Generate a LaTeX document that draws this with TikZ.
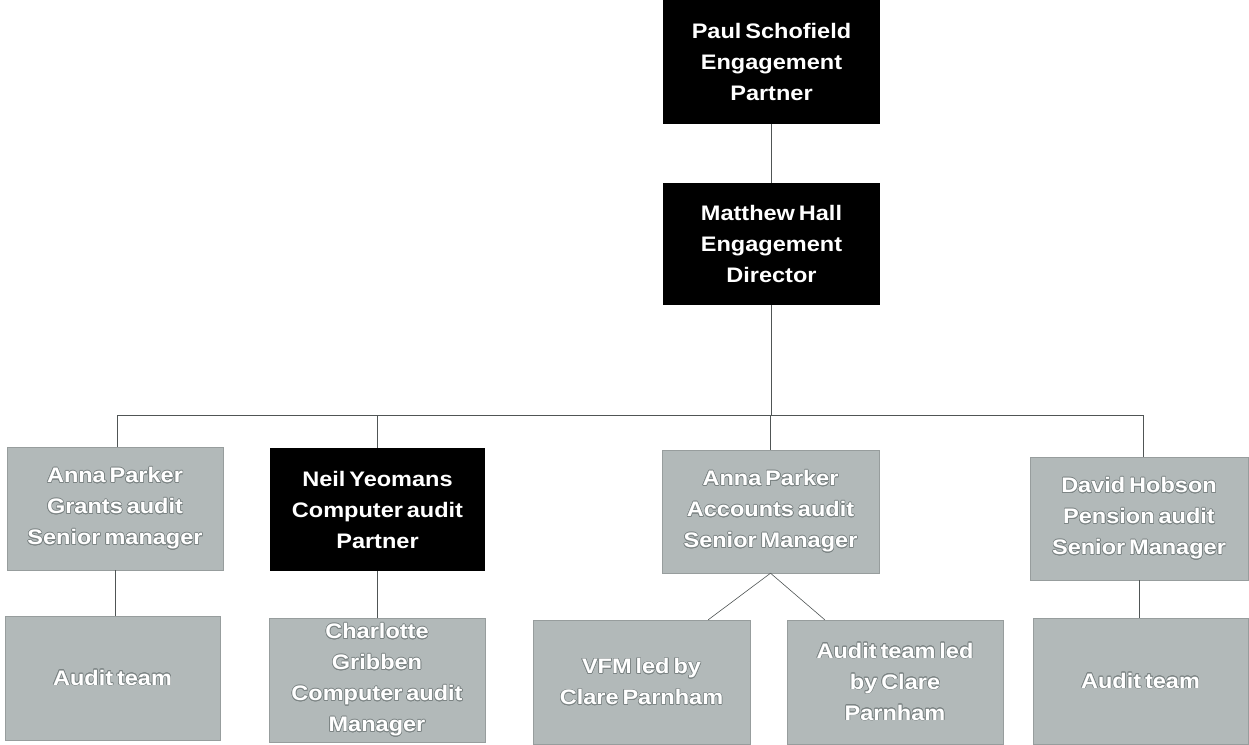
\documentclass[tikz,border=0pt]{standalone}
\usepackage{fontspec}
\newfontfamily\boxfont{Liberation Sans}[FakeStretch=1.12, WordSpace=0.6]
\usepackage{contour}
\contourlength{0.6pt}
\contournumber{16}
\usetikzlibrary{calc}
\definecolor{boxgray}{HTML}{B2B9B9}
\definecolor{edgegray}{HTML}{7C8484}
\definecolor{linegray}{HTML}{505555}
\newcommand{\olt}[1]{\contour{edgegray}{#1}}
\begin{document}
\begin{tikzpicture}[x=1pt,y=-1pt,
  orgbox/.style={rectangle, inner sep=0pt, align=center, text=white,
    font=\boxfont\bfseries\fontsize{21}{31}\selectfont},
  darkbox/.style={orgbox, fill=black},
  graybox/.style={orgbox, fill=boxgray, draw=boxgray!85!black, line width=0.4pt},
  conn/.style={draw=linegray, line width=0.6pt}]
\fill[white] (0,0) rectangle (1249,744);
\useasboundingbox (0,0) rectangle (1249,744);

\node[darkbox, minimum width=217pt, minimum height=124pt] (paul) at (771.5,62)
  {Paul Schofield\\Engagement\\Partner};
\node[darkbox, minimum width=217pt, minimum height=122pt] (matt) at (771.5,244)
  {Matthew Hall\\Engagement\\Director};

\node[graybox, minimum width=216pt, minimum height=123pt] (grants) at (115,508.5)
  {\olt{Anna Parker}\\\olt{Grants audit}\\\olt{Senior manager}};
\node[darkbox, minimum width=215pt, minimum height=123pt] (neil) at (377.5,509.5)
  {Neil Yeomans\\Computer audit\\Partner};
\node[graybox, minimum width=217pt, minimum height=123pt] (acc) at (770.5,511.5)
  {\olt{Anna Parker}\\\olt{Accounts audit}\\\olt{Senior Manager}};
\node[graybox, minimum width=218pt, minimum height=123pt] (david) at (1139,518.5)
  {\olt{David Hobson}\\\olt{Pension audit}\\\olt{Senior Manager}};

\node[graybox, minimum width=215pt, minimum height=124pt] (team1) at (112.5,678)
  {\olt{Audit team}};
\node[graybox, minimum width=216pt, minimum height=124pt] (charl) at (377,680)
  {\olt{Charlotte}\\\olt{Gribben}\\\olt{Computer audit}\\\olt{Manager}};
\node[graybox, minimum width=217pt, minimum height=124pt] (vfm) at (641.5,682)
  {\olt{VFM led by}\\\olt{Clare Parnham}};
\node[graybox, minimum width=216pt, minimum height=124pt] (led) at (895,682)
  {\olt{Audit team led}\\\olt{by Clare}\\\olt{Parnham}};
\node[graybox, minimum width=215pt, minimum height=126pt] (team2) at (1140.5,681)
  {\olt{Audit team}};

\coordinate (busL) at (117,415);
\coordinate (busR) at (1143,415);
\coordinate (vfmtop) at ($(vfm.north east)+(-42,0)$);
\coordinate (ledtop) at ($(led.north west)+(38,0)$);

\draw[conn] (paul.south) -- (matt.north);
\draw[conn] (matt.south) -- (matt.south |- busL);
\draw[conn] (busL) -- (busR);
\draw[conn] (busL) -- (busL |- grants.north);
\draw[conn] (neil.north) -- (neil.north |- busL);
\draw[conn] (acc.north) -- (acc.north |- busL);
\draw[conn] (busR) -- (busR |- david.north);
\draw[conn] (grants.south) -- (grants.south |- team1.north);
\draw[conn] (neil.south) -- (neil.south |- charl.north);
\draw[conn] (acc.south) -- (vfmtop);
\draw[conn] (acc.south) -- (ledtop);
\draw[conn] (david.south) -- (david.south |- team2.north);
\end{tikzpicture}
\end{document}
